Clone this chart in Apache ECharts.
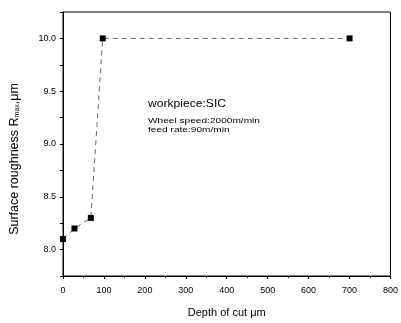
<!DOCTYPE html>
<html><head><meta charset="utf-8">
<script src="https://cdn.jsdelivr.net/npm/echarts@6/dist/echarts.min.js"></script>
<style>html,body{margin:0;padding:0;background:#fff}#c{width:401px;height:323px}</style>
</head><body><div id="c"></div>
<script>
var depth = [0, 28, 68, 97, 700];
var roughness = [8.1, 8.2, 8.3, 10.0, 10.0];
var yMajor = [8.0, 8.5, 9.0, 9.5, 10.0];
var yTicks = [7.75, 8.0, 8.25, 8.5, 8.75, 9.0, 9.25, 9.5, 9.75, 10.0, 10.25];
var notes = ['workpiece:SIC', 'Wheel speed:2000m/min', 'feed rate:90m/min'];

var chart = echarts.init(document.getElementById('c'));
var font = 'Liberation Sans, Arial, sans-serif';
chart.setOption({
  animation: false,
  grid: {left: 59, right: 10, top: 12, bottom: 42, show: true, borderColor: '#000', borderWidth: 1},
  xAxis: {
    type: 'value', min: 0, max: 800, interval: 100,
    name: 'Depth of cut \u03bcm', nameLocation: 'middle', nameGap: 31,
    nameTextStyle: {fontFamily: font, fontSize: 11, color: '#000'},
    axisLine: {lineStyle: {color: '#000', width: 1}},
    axisTick: {show: true, inside: false, length: 3, lineStyle: {color: '#000'}},
    minorTick: {show: true, splitNumber: 2, length: 2, lineStyle: {color: '#000'}},
    axisLabel: {fontFamily: font, fontSize: 9, color: '#000', margin: 10},
    splitLine: {show: false}
  },
  yAxis: {
    type: 'value', min: 7.75, max: 10.25,
    name: 'Surface roughness R{sub|max},\u03bcm', nameLocation: 'middle', nameGap: 42,
    nameTextStyle: {fontFamily: font, fontSize: 12.5, color: '#000', padding: [0, 30, 0, 0],
      rich: {sub: {fontFamily: font, fontSize: 7, color: '#000', verticalAlign: 'bottom', padding: [6, 0, 0, 0]}}},
    axisLine: {lineStyle: {color: '#000', width: 1}},
    axisTick: {show: true, inside: false, length: 3, customValues: yTicks, lineStyle: {color: '#000'}},
    axisLabel: {fontFamily: font, fontSize: 9, color: '#000', margin: 7, customValues: yMajor,
      formatter: function (v) { return v.toFixed(1); }},
    splitLine: {show: false}
  },
  graphic: [
    {type: 'text', x: 148, y: 98, scaleX: 1.1, style: {text: notes[0], fontFamily: font, fontSize: 11, fill: '#000'}},
    {type: 'text', x: 148, y: 117, scaleX: 1.35, style: {text: notes[1], fontFamily: font, fontSize: 7.5, fill: '#000'}},
    {type: 'text', x: 148, y: 126, scaleX: 1.35, style: {text: notes[2], fontFamily: font, fontSize: 7.5, fill: '#000'}}
  ],
  series: [{
    type: 'line',
    data: depth.map(function (d, i) { return [d, roughness[i]]; }),
    symbol: 'rect', symbolSize: 6,
    itemStyle: {color: '#000'},
    lineStyle: {color: '#666', width: 1, type: [5, 4]}
  }]
});
</script></body></html>
